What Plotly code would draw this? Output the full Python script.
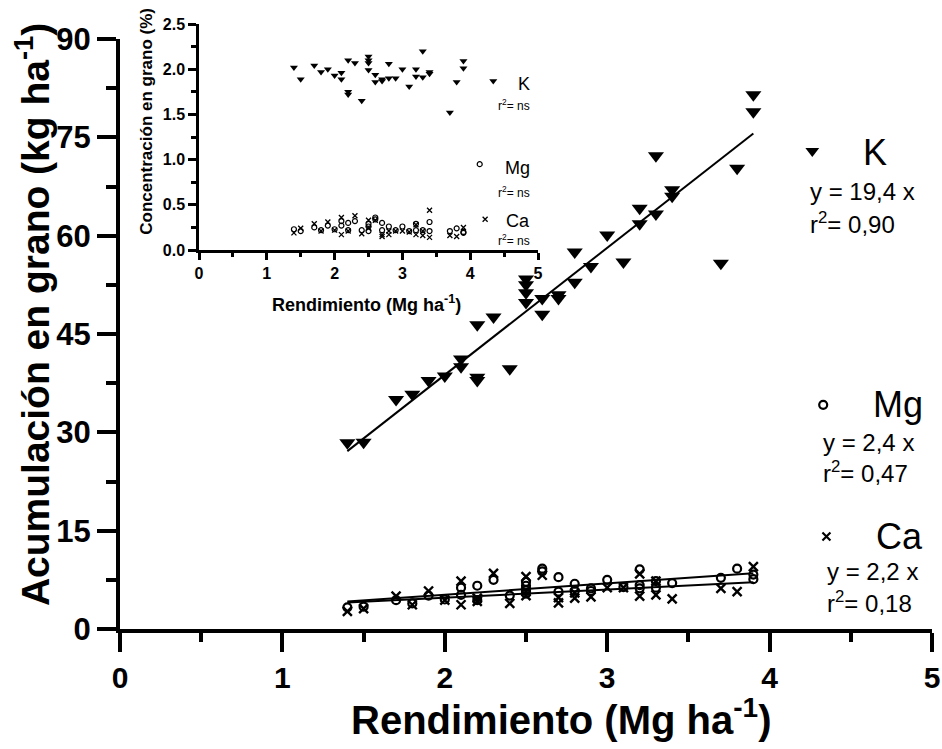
import numpy as np
import plotly.graph_objects as go

# ---------------- data ----------------
# Main chart: accumulation in grain (kg/ha) vs yield (Mg/ha)
k_x = [1.4, 1.5, 1.7, 1.8, 1.9, 2.0, 2.1, 2.1, 2.2, 2.2, 2.2, 2.3, 2.4, 2.5, 2.5, 2.5, 2.5, 2.6, 2.6,
       2.7, 2.7, 2.8, 2.8, 2.9, 3.0, 3.1, 3.2, 3.2, 3.3, 3.3, 3.4, 3.4, 3.7, 3.8, 3.9, 3.9]
k_y = [28.4, 28.5, 35.0, 35.8, 37.9, 38.6, 41.2, 40.0, 46.4, 38.4, 37.9, 47.6, 39.7, 53.4, 52.5, 51.3, 49.8,
       50.4, 48.0, 51.0, 50.4, 57.5, 52.9, 55.3, 60.1, 56.0, 64.2, 61.8, 72.2, 63.3, 67.0, 66.0, 55.8, 70.3,
       81.5, 78.9]

mg_x = [1.4, 1.5, 1.7, 1.8, 1.9, 2.0, 2.1, 2.1, 2.2, 2.2, 2.3, 2.4, 2.5, 2.5, 2.5, 2.5, 2.6, 2.6, 2.7, 2.7,
        2.8, 2.8, 2.9, 2.9, 3.0, 3.1, 3.2, 3.2, 3.2, 3.3, 3.3, 3.4, 3.7, 3.8, 3.9, 3.9]
mg_y = [3.3, 3.4, 4.4, 3.9, 5.1, 4.5, 6.3, 5.2, 6.6, 4.4, 7.5, 5.1, 7.2, 6.6, 5.9, 5.4, 9.2, 8.8, 7.9, 5.7,
        6.9, 5.8, 6.2, 5.8, 7.5, 6.4, 9.1, 6.7, 6.2, 7.3, 6.3, 7.0, 7.8, 9.2, 8.3, 7.6]

ca_x = [1.4, 1.5, 1.7, 1.8, 1.9, 2.0, 2.1, 2.1, 2.2, 2.2, 2.3, 2.4, 2.5, 2.5, 2.5, 2.6, 2.7, 2.7, 2.8, 2.8,
        2.9, 3.0, 3.1, 3.2, 3.2, 3.3, 3.3, 3.4, 3.7, 3.8, 3.9]
ca_y = [2.7, 3.1, 5.0, 3.7, 5.8, 4.4, 7.3, 3.7, 4.7, 4.2, 8.5, 3.9, 8.0, 5.7, 5.1, 8.2, 4.8, 4.0, 5.5, 4.7,
        4.9, 6.3, 6.3, 8.4, 5.0, 7.3, 5.2, 4.6, 6.2, 5.7, 9.5]

# Inset: concentration in grain (%) vs yield (Mg/ha)
kc_x = k_x
kc_y = [2.02, 1.89, 2.04, 1.97, 2.00, 1.93, 1.96, 1.89, 2.10, 1.75, 1.72, 2.07, 1.65, 2.14, 2.10, 2.07, 1.99,
        1.94, 1.86, 1.89, 1.87, 2.06, 1.90, 1.90, 2.00, 1.81, 2.00, 1.92, 2.20, 1.91, 1.97, 1.95, 1.52, 1.86,
        2.09, 2.01]

mgc_x = [1.4, 1.5, 1.7, 1.8, 1.9, 2.0, 2.1, 2.1, 2.2, 2.2, 2.3, 2.4, 2.5, 2.5, 2.5, 2.6, 2.6, 2.7, 2.7, 2.8,
         2.9, 3.0, 3.1, 3.2, 3.2, 3.3, 3.4, 3.4, 3.7, 3.8, 3.9, 3.9]
mgc_y = [0.23, 0.21, 0.25, 0.22, 0.27, 0.23, 0.32, 0.27, 0.30, 0.22, 0.32, 0.22, 0.29, 0.26, 0.21, 0.36, 0.34,
         0.30, 0.22, 0.26, 0.22, 0.26, 0.21, 0.29, 0.22, 0.22, 0.31, 0.21, 0.21, 0.24, 0.20, 0.19]

cac_x = [1.4, 1.5, 1.7, 1.8, 1.9, 2.0, 2.1, 2.1, 2.2, 2.3, 2.4, 2.5, 2.5, 2.6, 2.7, 2.7, 2.8, 2.8, 2.9, 3.0,
         3.1, 3.2, 3.2, 3.3, 3.3, 3.4, 3.4, 3.7, 3.8, 3.9]
cac_y = [0.19, 0.24, 0.29, 0.21, 0.31, 0.22, 0.36, 0.17, 0.21, 0.38, 0.18, 0.33, 0.24, 0.33, 0.17, 0.15, 0.21,
         0.17, 0.21, 0.21, 0.20, 0.28, 0.17, 0.21, 0.16, 0.44, 0.14, 0.16, 0.15, 0.25]

x_ticks = [0, 1, 2, 3, 4, 5]
y_ticks = [0, 15, 30, 45, 60, 75, 90]
inset_y_ticks = [0.0, 0.5, 1.0, 1.5, 2.0, 2.5]

main_eq = {"K": ("y = 19,4 x", "r<sup>2</sup>= 0,90"),
           "Mg": ("y = 2,4 x", "r<sup>2</sup>= 0,47"),
           "Ca": ("y = 2,2 x", "r<sup>2</sup>= 0,18")}
inset_r2 = "r<sup>2</sup>= ns"

# ---------------- figure ----------------
FONT = "Liberation Sans, Arial, sans-serif"
BLACK = "black"


def fit_line(xs, ys, through_origin=False):
    xs = np.asarray(xs, float)
    ys = np.asarray(ys, float)
    if through_origin:
        b, a = (xs * ys).sum() / (xs * xs).sum(), 0.0
    else:
        b, a = np.polyfit(xs, ys, 1)
    xl = np.array([xs.min(), xs.max()])
    return xl, a + b * xl


fig = go.Figure()

# main scatter
fig.add_trace(go.Scatter(x=k_x, y=k_y, mode="markers", xaxis="x", yaxis="y",
                         marker=dict(symbol="triangle-down", size=14, color=BLACK), showlegend=False))
fig.add_trace(go.Scatter(x=mg_x, y=mg_y, mode="markers", xaxis="x", yaxis="y",
                         marker=dict(symbol="circle-open", size=8, color=BLACK, line=dict(width=2.2, color=BLACK)),
                         showlegend=False))
fig.add_trace(go.Scatter(x=ca_x, y=ca_y, mode="markers", xaxis="x", yaxis="y",
                         marker=dict(symbol="x-thin", size=9, color=BLACK, line=dict(width=2.4, color=BLACK)),
                         showlegend=False))
for xs, ys, orig in [(k_x, k_y, True), (mg_x, mg_y, False), (ca_x, ca_y, False)]:
    xl, yl = fit_line(xs, ys, orig)
    fig.add_trace(go.Scatter(x=xl, y=yl, mode="lines", xaxis="x", yaxis="y",
                             line=dict(color=BLACK, width=2), showlegend=False))

# inset scatter
fig.add_trace(go.Scatter(x=kc_x, y=kc_y, mode="markers", xaxis="x2", yaxis="y2",
                         marker=dict(symbol="triangle-down", size=7, color=BLACK), showlegend=False))
fig.add_trace(go.Scatter(x=mgc_x, y=mgc_y, mode="markers", xaxis="x2", yaxis="y2",
                         marker=dict(symbol="circle-open", size=5, color=BLACK, line=dict(width=1.2, color=BLACK)),
                         showlegend=False))
fig.add_trace(go.Scatter(x=cac_x, y=cac_y, mode="markers", xaxis="x2", yaxis="y2",
                         marker=dict(symbol="x-thin", size=5, color=BLACK, line=dict(width=1.3, color=BLACK)),
                         showlegend=False))

# legend symbols (main, right side) and inset legend symbols
fig.add_trace(go.Scatter(x=[4.263], y=[72.9], mode="markers", xaxis="x", yaxis="y",
                         marker=dict(symbol="triangle-down", size=12, color=BLACK), showlegend=False))
fig.add_trace(go.Scatter(x=[4.33], y=[34.2], mode="markers", xaxis="x", yaxis="y",
                         marker=dict(symbol="circle-open", size=8, color=BLACK, line=dict(width=2.2, color=BLACK)),
                         showlegend=False))
fig.add_trace(go.Scatter(x=[4.35], y=[14.1], mode="markers", xaxis="x", yaxis="y",
                         marker=dict(symbol="x-thin", size=8, color=BLACK, line=dict(width=2.2, color=BLACK)),
                         showlegend=False))
fig.add_trace(go.Scatter(x=[4.34], y=[1.87], mode="markers", xaxis="x2", yaxis="y2",
                         marker=dict(symbol="triangle-down", size=7, color=BLACK), showlegend=False))
fig.add_trace(go.Scatter(x=[4.14], y=[0.95], mode="markers", xaxis="x2", yaxis="y2",
                         marker=dict(symbol="circle-open", size=5, color=BLACK, line=dict(width=1.2, color=BLACK)),
                         showlegend=False))
fig.add_trace(go.Scatter(x=[4.22], y=[0.34], mode="markers", xaxis="x2", yaxis="y2",
                         marker=dict(symbol="x-thin", size=5, color=BLACK, line=dict(width=1.3, color=BLACK)),
                         showlegend=False))

ann = []
# axis titles
ann.append(dict(text="Rendimiento (Mg ha<sup>-1</sup>)", xref="paper", yref="paper", x=0.543, y=-0.1445,
                xanchor="center", yanchor="middle", showarrow=False,
                font=dict(family=FONT, size=40, color=BLACK, weight="bold")))
ann.append(dict(text="Acumulación en grano (kg ha<sup>-1</sup>)", xref="paper", yref="paper", x=-0.107, y=0.5156,
                xanchor="center", yanchor="middle", textangle=-90, showarrow=False,
                font=dict(family=FONT, size=39, color=BLACK, weight="bold")))
ann.append(dict(text="Rendimiento (Mg ha<sup>-1</sup>)", xref="paper", yref="paper", x=0.304, y=0.535,
                xanchor="center", yanchor="middle", showarrow=False,
                font=dict(family=FONT, size=18, color=BLACK, weight="bold")))
ann.append(dict(text="Concentración en grano (%)", xref="paper", yref="paper", x=0.0333, y=0.833,
                xanchor="center", yanchor="middle", textangle=-90, showarrow=False,
                font=dict(family=FONT, size=17, color=BLACK, weight="bold")))

# main legend texts
name_pos = {"K": (4.649, 72.7), "Mg": (4.788, 34.2), "Ca": (4.797, 14.1)}
eq_pos = {"K": (4.236, 66.8, 62.0), "Mg": (4.315, 28.4, 23.9), "Ca": (4.34, 8.76, 4.17)}
for nm in ["K", "Mg", "Ca"]:
    ann.append(dict(text=nm, xref="x", yref="y", x=name_pos[nm][0], y=name_pos[nm][1], xanchor="center",
                    yanchor="middle", showarrow=False, font=dict(family=FONT, size=36, color=BLACK)))
    ex, ey1, ey2 = eq_pos[nm]
    ann.append(dict(text=main_eq[nm][0], xref="x", yref="y", x=ex, y=ey1, xanchor="left", yanchor="middle",
                    showarrow=False, font=dict(family=FONT, size=24, color=BLACK)))
    ann.append(dict(text=main_eq[nm][1], xref="x", yref="y", x=ex, y=ey2, xanchor="left", yanchor="middle",
                    showarrow=False, font=dict(family=FONT, size=24, color=BLACK)))

# inset legend texts
inset_pos = {"K": (1.84, 1.60), "Mg": (0.91, 0.645), "Ca": (0.32, 0.11)}
for nm in ["K", "Mg", "Ca"]:
    ny, ry = inset_pos[nm]
    ann.append(dict(text=nm, xref="x2", yref="y2", x=4.91, y=ny, xanchor="right", yanchor="middle",
                    showarrow=False, font=dict(family=FONT, size=18, color=BLACK)))
    ann.append(dict(text=inset_r2, xref="x2", yref="y2", x=4.91, y=ry, xanchor="right", yanchor="middle",
                    showarrow=False, font=dict(family=FONT, size=12, color=BLACK)))

axis_common = dict(showgrid=False, zeroline=False, showline=True, linecolor=BLACK, ticks="outside",
                   tickcolor=BLACK, automargin=False)

fig.update_layout(
    width=942, height=749,
    margin=dict(l=120, r=10, t=20, b=120, autoexpand=False),
    paper_bgcolor="white", plot_bgcolor="white",
    font=dict(family=FONT, color=BLACK),
    xaxis=dict(domain=[0, 1], range=[0, 5], anchor="y", tickvals=x_ticks,
               linewidth=4, ticklen=19, tickwidth=4,
               tickfont=dict(family=FONT, size=30, color=BLACK, weight="bold"),
               minor=dict(dtick=0.5, ticklen=9, tickwidth=4, tickcolor=BLACK, ticks="outside"),
               **axis_common),
    yaxis=dict(domain=[0, 0.9688], range=[0, 90], anchor="x", tickvals=y_ticks,
               linewidth=4, ticklen=19, tickwidth=4,
               tickfont=dict(family=FONT, size=31, color=BLACK, weight="bold"),
               minor=dict(dtick=7.5, ticklen=10, tickwidth=4, tickcolor=BLACK, ticks="outside"),
               **axis_common),
    xaxis2=dict(domain=[0.0973, 0.5148], range=[0, 5], anchor="y2", tickvals=x_ticks,
                linewidth=2.5, ticklen=7, tickwidth=2.5,
                tickfont=dict(family=FONT, size=16, color=BLACK, weight="bold"),
                minor=dict(dtick=0.5, ticklen=4, tickwidth=2.5, tickcolor=BLACK, ticks="outside"),
                **axis_common),
    yaxis2=dict(domain=[0.6223, 0.9934], range=[0, 2.5], anchor="x2", tickvals=inset_y_ticks,
                tickformat=".1f", linewidth=2.5, ticklen=8, tickwidth=2.5,
                tickfont=dict(family=FONT, size=16, color=BLACK, weight="bold"),
                minor=dict(dtick=0.25, ticklen=5, tickwidth=2.5, tickcolor=BLACK, ticks="outside"),
                **axis_common),
    annotations=ann,
)

fig.write_html("out.html", config={"displayModeBar": False},
               post_script="document.body.style.margin='0';document.body.style.padding='0';")
